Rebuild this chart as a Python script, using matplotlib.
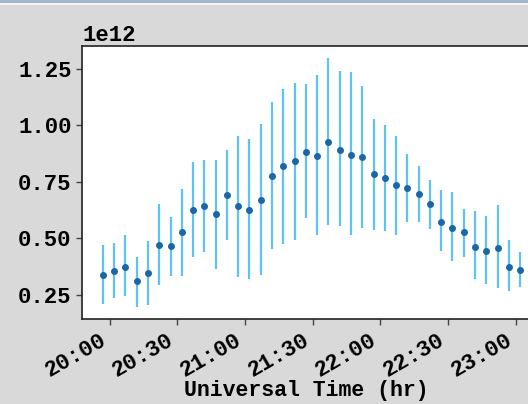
import matplotlib
matplotlib.use('Agg')
import matplotlib.pyplot as plt
import matplotlib.dates as mdates
from matplotlib.patches import Rectangle
import numpy as np
import pandas as pd

# 5-minute bins, universal time
times = ['19:57', '20:02', '20:07', '20:12', '20:17', '20:22', '20:27', '20:32',
         '20:37', '20:42', '20:47', '20:52', '20:57', '21:02', '21:07', '21:12',
         '21:17', '21:22', '21:27', '21:32', '21:37', '21:42', '21:47', '21:52',
         '21:57', '22:02', '22:07', '22:12', '22:17', '22:22', '22:27', '22:32',
         '22:37', '22:42', '22:47', '22:52', '22:57', '23:02']

# mean value per bin (x1e12)
mean_val = [0.337, 0.356, 0.374, 0.311, 0.346, 0.468, 0.464, 0.529,
            0.626, 0.641, 0.608, 0.692, 0.641, 0.626, 0.669, 0.777,
            0.818, 0.842, 0.883, 0.865, 0.926, 0.892, 0.869, 0.861,
            0.785, 0.768, 0.734, 0.720, 0.697, 0.650, 0.574, 0.546,
            0.526, 0.462, 0.445, 0.459, 0.375, 0.361]

# lower / upper ends of the error bars (x1e12)
low_val = [0.209, 0.235, 0.246, 0.198, 0.206, 0.294, 0.334, 0.331,
           0.419, 0.437, 0.364, 0.493, 0.328, 0.319, 0.338, 0.452,
           0.476, 0.493, 0.589, 0.515, 0.560, 0.555, 0.515, 0.545,
           0.535, 0.530, 0.515, 0.574, 0.570, 0.541, 0.442, 0.400,
           0.419, 0.319, 0.299, 0.280, 0.269, 0.284]
high_val = [0.468, 0.479, 0.515, 0.417, 0.489, 0.653, 0.594, 0.719,
            0.835, 0.847, 0.847, 0.892, 0.950, 0.939, 1.007, 1.101,
            1.160, 1.187, 1.182, 1.220, 1.297, 1.238, 1.235, 1.172,
            1.027, 1.002, 0.954, 0.873, 0.821, 0.759, 0.715, 0.703,
            0.631, 0.619, 0.600, 0.648, 0.493, 0.439]

x = pd.to_datetime(['2000-01-01 ' + t for t in times])
y = np.array(mean_val) * 1e12
lo = np.array(low_val) * 1e12
hi = np.array(high_val) * 1e12
yerr = [y - lo, hi - y]

plt.rcParams['font.family'] = ['Liberation Mono', 'DejaVu Sans Mono']
plt.rcParams['font.weight'] = 'bold'
plt.rcParams['axes.labelweight'] = 'bold'
plt.rcParams['font.size'] = 16

fig = plt.figure(figsize=(5.28, 4.04), dpi=100, facecolor='#d9d9d9')
# window title strip along the top edge
fig.patches.append(Rectangle((0, 1 - 3 / 404), 1, 3 / 404, transform=fig.transFigure,
                             facecolor='#a3b6cf', edgecolor='none'))
fig.patches.append(Rectangle((0, 1 - 5 / 404), 1, 2 / 404, transform=fig.transFigure,
                             facecolor='#f4f4f4', edgecolor='none'))

ax = fig.add_axes([82 / 528, 85 / 404, 459 / 528, 273.5 / 404])
ax.errorbar(x, y, yerr=yerr, fmt='o', color='#1b67a6', ms=4,
            ecolor='#5fc2f4', elinewidth=1.6, capsize=0)

ax.xaxis.set_major_locator(mdates.MinuteLocator(byminute=[0, 30]))
ax.xaxis.set_major_formatter(mdates.DateFormatter('%H:%M'))
for lab in ax.get_xticklabels():
    lab.set_rotation(30)
    lab.set_ha('right')
ax.set_yticks([0.25e12, 0.5e12, 0.75e12, 1.0e12, 1.25e12])
ax.set_xlabel('Universal Time (hr)', fontsize=15.5, va='bottom')
ax.xaxis.set_label_coords(0.488, -0.30)

for s in ax.spines.values():
    s.set_color('#222222')
    s.set_linewidth(1.2)
ax.tick_params(length=4, width=1, color='#444444')

fig.savefig('out.png', dpi=100, facecolor=fig.get_facecolor())
